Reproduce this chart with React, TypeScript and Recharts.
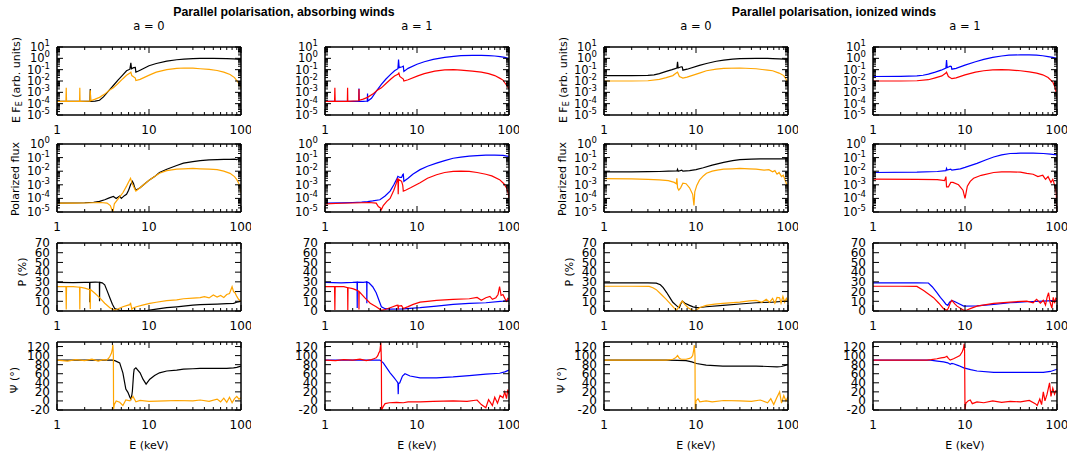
import React from 'react';
import { LineChart, Line, XAxis, YAxis } from 'recharts';

type Pt = [number, number];

// ---------- axis ticks & texts ----------
const X_TICKS = [1, 2, 3, 4, 5, 6, 7, 8, 9, 10, 20, 30, 40, 50, 60, 70, 80, 90, 100];
const X_LABELS = [1, 10, 100];
const FLUX_DECADES = [-5, -4, -3, -2, -1, 0, 1];
const POL_DECADES = [-5, -4, -3, -2, -1, 0];
const P_TICKS = [0, 10, 20, 30, 40, 50, 60, 70];
const PSI_TICKS = [-20, 0, 20, 40, 60, 80, 100, 120];

const TITLES = ['Parallel polarisation, absorbing winds', 'Parallel polarisation, ionized winds'];
const SPIN_LABELS = ['a = 0', 'a = 1', 'a = 0', 'a = 1'];
const X_LABEL = 'E (keV)';

// ---------- data: [E (keV), value] ----------
// Row 1: E F_E
const absA0Flux1: Pt[] = [[1,1.6e-4],[1.5,1.6e-4],[2.0,1.6e-4],[2.28,1.6e-4],[2.3,2e-3],[2.32,1.6e-4],[2.6,1.7e-4],[2.9,2e-4],[3.2,4e-4],[3.6,1.2e-3],[4.1,4e-3],[4.6,1.2e-2],[5.2,3.5e-2],[5.7,8e-2],[6.2,1.1e-1],[6.35,4e-1],[6.45,1.2e-1],[6.8,1.5e-1],[7.1,1.6e-1],[7.2,6e-2],[8,9e-2],[10,2.2e-1],[12,3.5e-1],[15.6,5.7e-1],[20,7.5e-1],[24,8.6e-1],[30,9.5e-1],[36,1.0],[50,1.0],[70,0.95],[83,0.9],[90,0.85],[100,0.75]];
const absA0Flux2: Pt[] = [[1,1.6e-4],[1.25,1.6e-4],[1.26,2.5e-3],[1.27,1.6e-4],[1.76,1.6e-4],[1.77,2.5e-3],[1.78,1.6e-4],[2.28,1.7e-4],[2.3,1.5e-3],[2.32,1.8e-4],[2.6,2.5e-4],[2.9,3.6e-4],[3.3,7e-4],[3.7,1.5e-3],[4.1,2.5e-3],[4.6,6e-3],[5.2,1.6e-2],[5.7,3.2e-2],[6.2,5e-2],[6.35,6e-2],[6.5,3e-2],[7.1,1.8e-2],[7.2,1.1e-2],[8,1.4e-2],[10.2,3.5e-2],[12,6e-2],[15.6,1.0e-1],[20,1.3e-1],[24,1.4e-1],[30,1.35e-1],[36,1.2e-1],[45,1.05e-1],[55,8.5e-2],[65,6e-2],[76,3.7e-2],[85,2e-2],[90,1.1e-2],[95,6e-3],[100,2.5e-3]];
const absA1Flux1: Pt[] = [[1,1.6e-4],[2.0,1.6e-4],[2.33,1.6e-4],[2.34,2.2e-3],[2.35,1.6e-4],[2.6,1.6e-4],[2.88,1.7e-4],[2.9,8e-4],[2.92,1.7e-4],[3.2,3e-4],[3.6,1.2e-3],[4.1,5e-3],[4.6,1.5e-2],[5.2,4e-2],[5.7,8e-2],[6.2,1.2e-1],[6.3,8e-1],[6.4,1.5e-1],[6.9,1.8e-1],[7.1,2e-1],[7.2,7e-2],[8,1.3e-1],[10,3e-1],[12,5e-1],[15,8e-1],[20,1.2],[25,1.5],[30,1.7],[40,1.8],[50,1.8],[60,1.75],[70,1.6],[80,1.4],[90,1.2],[100,0.95]];
const absA1Flux2: Pt[] = [[1,1.6e-4],[1.27,1.6e-4],[1.28,2.5e-3],[1.29,1.6e-4],[1.75,1.6e-4],[1.76,2.5e-3],[1.77,1.6e-4],[2.33,1.8e-4],[2.34,2e-3],[2.35,2e-4],[2.6,2.5e-4],[2.9,3.6e-4],[3.3,7e-4],[3.7,1.5e-3],[4.1,2.5e-3],[4.6,6e-3],[5.2,1.5e-2],[5.7,2.8e-2],[6.2,4e-2],[6.35,5e-2],[6.5,2.5e-2],[7.1,1.5e-2],[7.2,1e-2],[8,1.3e-2],[10.2,2.8e-2],[12,4.5e-2],[15.6,7.5e-2],[20,9.5e-2],[25,1e-1],[30,9e-2],[40,7.5e-2],[50,6e-2],[60,4.5e-2],[70,3e-2],[80,1.7e-2],[86,1.2e-2],[90,7e-3],[95,4e-3],[100,2e-3]];
const ionA0Flux1: Pt[] = [[1,3e-2],[2,3e-2],[3,3.1e-2],[3.5,3.5e-2],[4,4.5e-2],[4.75,7e-2],[5.5,1e-1],[6.2,1.4e-1],[6.3,5e-1],[6.4,1.4e-1],[6.9,1.8e-1],[7.1,1.7e-1],[7.2,9e-2],[8,1.1e-1],[10.9,2.4e-1],[13,3.5e-1],[16.6,5.5e-1],[20,7e-1],[25,8.5e-1],[30,9.5e-1],[45,1.0],[60,1.0],[68,0.95],[80,0.9],[90,0.85],[100,0.75]];
const ionA0Flux2: Pt[] = [[1,1e-2],[2,1e-2],[3,1.05e-2],[4,1.4e-2],[4.75,2e-2],[5.6,3e-2],[6.2,5.5e-2],[6.3,6e-2],[6.6,2.5e-2],[7.2,1.8e-2],[8,2.2e-2],[10.9,5e-2],[13,8e-2],[16.6,1.1e-1],[20,1.3e-1],[30,1.4e-1],[45,1.2e-1],[60,9e-2],[68,8e-2],[80,5e-2],[90,3e-2],[95,1.5e-2],[100,6e-3]];
const ionA1Flux1: Pt[] = [[1,2.5e-2],[2,2.6e-2],[3,2.8e-2],[3.5,3.2e-2],[4,4e-2],[4.75,6e-2],[5.5,9e-2],[6.2,1.4e-1],[6.3,7e-1],[6.4,1.5e-1],[6.9,2e-1],[7.1,1.9e-1],[7.2,1.1e-1],[8,1.3e-1],[10,2.5e-1],[13,5e-1],[16,8e-1],[20,1.2],[25,1.6],[30,1.9],[40,2.0],[50,2.0],[60,1.9],[70,1.7],[80,1.4],[90,1.2],[100,1.0]];
const ionA1Flux2: Pt[] = [[1,1e-2],[2,1e-2],[3,1.05e-2],[4,1.3e-2],[4.75,1.9e-2],[5.6,2.8e-2],[6.2,5e-2],[6.3,6e-2],[6.6,2.5e-2],[7.2,1.6e-2],[8,1.9e-2],[10,3.5e-2],[13,6e-2],[16,8e-2],[20,9.5e-2],[25,1e-1],[30,9.5e-2],[40,8e-2],[50,6.5e-2],[60,5e-2],[70,3.5e-2],[80,2e-2],[90,8e-3],[95,3e-3],[98,1e-3],[100,3e-4]];

// Row 2: polarized flux
const absA0Pol1: Pt[] = [[1,4.5e-5],[1.5,4.6e-5],[2,4.8e-5],[2.5,5.2e-5],[2.9,6e-5],[3.3,8e-5],[3.7,1.1e-4],[4.1,1.4e-4],[4.4,1.0e-4],[4.8,1.5e-4],[5.0,1.0e-4],[5.4,1.6e-4],[5.7,2e-4],[6.0,4e-4],[6.3,1e-3],[6.6,1.8e-3],[6.8,1.2e-3],[7.0,6e-4],[7.2,4e-4],[8,6e-4],[9,1.2e-3],[10.2,2.4e-3],[11.5,4e-3],[13,8e-3],[15.6,1.4e-2],[20,2.6e-2],[23.7,3.9e-2],[30,5e-2],[36,6e-2],[45,6.8e-2],[55,7e-2],[65,7.3e-2],[75,7.5e-2],[85,7.7e-2],[90,7e-2],[95,9e-2],[100,1e-1]];
const absA0Pol2: Pt[] = [[1,4.5e-5],[1.5,4.5e-5],[2,4.6e-5],[2.5,4.8e-5],[3,5e-5],[3.5,4.5e-5],[3.8,3e-5],[4.0,1.2e-5],[4.05,1e-5],[4.2,4e-5],[4.4,6e-5],[4.8,1.3e-4],[5.2,2.6e-4],[5.7,8e-4],[6.1,2e-3],[6.3,3e-3],[6.5,1.5e-3],[6.75,8e-4],[7.0,5e-4],[7.2,3.4e-4],[8,6e-4],[9,1.2e-3],[10.2,2.4e-3],[11.5,4e-3],[13,7e-3],[15.6,1.1e-2],[20,1.4e-2],[23.7,1.5e-2],[30,1.6e-2],[36,1.5e-2],[45,1.4e-2],[55,1.3e-2],[65,1e-2],[76,7e-3],[85,4e-3],[90,2.4e-3],[95,1.2e-3],[100,2.6e-4]];
const absA1Pol1: Pt[] = [[1,4.5e-5],[1.5,4.7e-5],[2,5e-5],[2.5,5.3e-5],[2.9,5.8e-5],[3.3,6.5e-5],[3.95,8e-5],[4.5,1.5e-4],[5.1,3.4e-4],[5.6,1e-3],[6.0,2.5e-3],[6.2,4.2e-3],[6.5,3.5e-3],[6.8,3.5e-3],[7.0,5.5e-3],[7.1,6e-3],[7.2,1.8e-3],[8,3e-3],[9,6e-3],[10.8,1.3e-2],[13,2.3e-2],[16.3,3.9e-2],[20,6e-2],[24.7,9e-2],[30,1.1e-1],[37,1.3e-1],[45,1.4e-1],[56,1.5e-1],[70,1.5e-1],[86,1.45e-1],[95,1.3e-1],[100,1.2e-1]];
const absA1Pol2: Pt[] = [[1,4e-5],[1.5,4.4e-5],[2,4.6e-5],[2.5,4.8e-5],[3,5e-5],[3.6,4.5e-5],[3.8,2.5e-5],[4.0,2e-5],[4.1,1.5e-5],[4.3,3e-5],[4.7,6e-5],[5.1,1e-4],[5.6,4e-4],[6.0,1.5e-3],[6.1,2.4e-3],[6.2,3e-3],[6.25,2e-4],[6.3,2.5e-3],[6.8,1.8e-3],[7.0,9e-4],[7.1,3.4e-4],[7.5,4e-4],[8.5,6e-4],[10.8,1.4e-3],[13,3e-3],[16.3,5.5e-3],[20,8e-3],[24.7,9.6e-3],[30,1e-2],[37,9.6e-3],[45,8e-3],[56,6e-3],[65,4.5e-3],[79,2.4e-3],[88,1.2e-3],[94,6e-4],[98,2.5e-4],[100,1e-4]];
const ionA0Pol1: Pt[] = [[1,9e-3],[2,9e-3],[3,9.2e-3],[4,9.5e-3],[5,1e-2],[6.2,1.05e-2],[6.3,1.4e-2],[6.4,1e-2],[7.0,1.2e-2],[7.2,1e-2],[8.5,1.1e-2],[10,1.3e-2],[12,1.8e-2],[15,2.8e-2],[20,4.5e-2],[25,6e-2],[30,7e-2],[40,7.8e-2],[50,8e-2],[70,8.2e-2],[90,8e-2],[100,8.5e-2]];
const ionA0Pol2: Pt[] = [[1,2.8e-3],[2,2.7e-3],[3,2.5e-3],[4,2.3e-3],[5,2e-3],[5.8,1.5e-3],[6.1,1.2e-3],[6.2,3e-3],[6.3,6e-4],[6.5,4e-4],[6.8,6e-4],[7.2,1.3e-3],[7.8,1.2e-3],[8.5,6e-4],[9.2,2e-4],[9.5,3e-5],[9.7,3e-4],[10.2,9e-4],[10.9,2.2e-3],[12,4.5e-3],[13,7e-3],[15,1e-2],[17,1.2e-2],[20,1.4e-2],[25,1.5e-2],[30,1.6e-2],[38,1.5e-2],[45,1.4e-2],[55,1.2e-2],[62,1.3e-2],[68,9e-3],[72,1.1e-2],[76,6e-3],[80,8e-3],[85,4e-3],[89,5e-3],[95,1.5e-3],[100,5e-4]];
const ionA1Pol1: Pt[] = [[1,8e-3],[3,8.5e-3],[5,9.5e-3],[6.2,1.1e-2],[6.3,1.6e-2],[6.4,1.2e-2],[7,1.4e-2],[7.2,1.2e-2],[8.9,1.5e-2],[10,1.9e-2],[13.5,3.8e-2],[17,7e-2],[20.5,1.1e-1],[25,1.6e-1],[31,2e-1],[40,2.1e-1],[55,2.1e-1],[71,2e-1],[85,1.8e-1],[100,1.6e-1]];
const ionA1Pol2: Pt[] = [[1,2.6e-3],[3,2.5e-3],[5,2.4e-3],[6.0,2e-3],[6.2,4e-3],[6.3,7e-4],[6.6,7e-4],[7.0,1.5e-3],[7.4,1.5e-3],[8.5,1e-3],[9.5,4e-4],[10,1e-4],[10.2,2e-4],[10.6,8e-4],[11.4,1.8e-3],[12.4,3e-3],[15,5e-3],[20.5,8e-3],[25,9e-3],[31,9e-3],[40,8.5e-3],[47,7e-3],[55,6e-3],[62,4e-3],[70,5e-3],[75,2.5e-3],[80,4e-3],[86,1.5e-3],[90,2.5e-3],[95,8e-4],[98,3e-4],[100,1e-5]];

// Row 3: P (%)
const absA0P1: Pt[] = [[1,29.5],[1.5,29.2],[2,29.5],[2.26,29.6],[2.27,9],[2.28,29.5],[2.6,29.8],[2.89,29.6],[2.9,10],[2.91,29.5],[3.1,29],[3.3,27],[3.5,21],[3.75,13.7],[4.0,7],[4.25,2.4],[4.8,0.7],[6,0.5],[8,0.4],[9.4,0.5],[12,2],[15.6,3.4],[20,4.3],[23.7,5],[30,6],[36,6.5],[55,7],[70,7.5],[83,7.8],[90,9],[100,10]];
const absA0P2: Pt[] = [[1,25],[1.25,25],[1.26,1.5],[1.27,25],[1.5,25],[1.76,24.5],[1.77,1.5],[1.78,24.5],[2.0,23.5],[2.27,22],[2.3,2],[2.31,22],[2.6,18],[2.9,13.7],[3.3,8],[3.75,3.4],[4.25,0.7],[4.7,2.5],[5.2,4.4],[5.8,5.8],[6.2,6.5],[6.3,8.5],[6.5,1.7],[6.7,3],[7.3,4.4],[8.5,6],[10.2,7.8],[12,9],[15.6,10.6],[20,11.5],[23.7,12.6],[30,13.2],[36,13.7],[40,14.8],[45,13.5],[50,16.5],[55,14.4],[60,16],[65,14],[70,17],[75,18],[80,25],[83,20],[86,18.8],[90,15],[94,12],[100,10]];
const absA1P1: Pt[] = [[1,29.5],[1.5,29],[2,29.5],[2.23,29.8],[2.24,3],[2.25,29.8],[2.6,29.5],[2.84,30],[2.85,8],[2.86,30],[3.0,29],[3.3,25],[3.6,18.8],[4.1,4.4],[4.5,2.4],[5,2],[7.1,2.2],[10.8,3.4],[16.3,5],[24.7,6.8],[37,7.8],[56,8.5],[86,10.2],[100,11]];
const absA1P2: Pt[] = [[1,25],[1.27,25],[1.28,1],[1.29,25],[1.6,25],[1.76,24],[1.77,1],[1.78,24],[2.0,23],[2.2,21.5],[2.33,20],[2.34,1.5],[2.35,20],[2.7,13.7],[3.1,8],[3.6,4.4],[4.1,0.7],[4.5,1.5],[5.1,3.4],[6.0,5.8],[6.2,6],[6.25,1.7],[6.3,5],[6.8,5.5],[7.1,2.5],[8,4.5],[9.1,6.8],[10.8,9.2],[13,10],[16.3,10.9],[24.7,12],[37,12.6],[45,14],[50,11],[56,13.7],[62,15],[66,12],[72,13.7],[76,17],[79,25],[82,16],[86,17],[90,13],[94,10],[97,13],[100,12]];
const ionA0P1: Pt[] = [[1,29],[2,29],[3,29],[3.7,28.7],[4.1,27],[4.4,24],[4.8,19],[5.2,13.7],[5.6,9],[6.1,5.8],[6.4,4],[6.6,3.4],[6.8,7],[7.1,10.2],[7.6,8],[8.5,5.8],[9.3,4.3],[10.1,3.4],[11,3.6],[12.9,4.4],[19.6,5.8],[30,7.2],[45,8.5],[68,9.2],[85,9.8],[100,10.2]];
const ionA0P2: Pt[] = [[1,25.5],[2,25.5],[3.1,25.3],[3.4,24],[3.7,22],[4.2,17],[4.75,12],[5.3,7],[5.8,3],[6.1,0.7],[6.4,3],[6.8,8],[7.1,10.2],[7.6,6.5],[8.2,3.4],[9,1.2],[9.6,0.2],[10.3,1.5],[10.9,3.4],[12.9,5.8],[16,7],[19.6,7.8],[30,9.2],[38,10.5],[45,10.9],[52,9],[58,12],[63,9],[68,13],[72,8],[76,14],[81,13.7],[84,8],[88,15],[92,9],[96,13],[100,10]];
const ionA1P1: Pt[] = [[1,29],[2,29],[3,29],[4.0,28.8],[4.4,25],[4.95,18.8],[5.4,14],[5.85,10.2],[6.2,7],[6.5,5.8],[6.8,9],[7.2,10.9],[7.8,9.5],[8.5,7.8],[9.7,5],[13.5,5.2],[20.5,6.8],[31,8.5],[47,9.5],[71,10.2],[100,11]];
const ionA1P2: Pt[] = [[1,25.5],[2,25.5],[3,25.3],[3.55,21],[4.0,17.5],[4.55,13.7],[5.2,8],[5.85,2.4],[6.35,0.7],[6.6,3],[6.9,8],[7.2,11],[7.7,7.5],[8.2,5],[9,2.5],[9.7,0.7],[10.5,1],[11.4,2.4],[13.5,5],[20.5,7.8],[31,9.2],[47,10.2],[55,8.5],[60,12],[66,8],[71,11],[75,6],[78,14],[81,18.8],[84,9],[88,3],[91,14],[94,8],[97,13],[100,12]];

// Row 4: Psi (deg)
const absA0Psi1: Pt[] = [[1,90],[2,90],[3,90],[4,90],[4.25,89],[4.8,84],[5.2,62],[5.6,26],[5.9,19],[6.2,8],[6.35,4],[6.5,12],[6.6,22],[6.8,60],[6.9,70],[7.2,73],[8,62],[8.6,48],[9.3,37],[10.2,48],[11.5,56],[13,62],[15.6,66],[20,68],[23.7,70],[30,71],[36,72],[55,72],[70,72],[83,73],[90,74],[100,77]];
const absA0Psi2: Pt[] = [[1,90],[1.3,88],[1.6,91],[2,89],[2.4,92],[2.8,88],[3.2,91],[3.45,90],[3.6,93],[3.75,98],[3.9,105],[4.0,115],[4.05,124],[4.1,100],[4.12,-18],[4.2,-8],[4.4,0],[4.8,-3],[5.2,-10],[5.6,2],[6.2,0],[6.7,10],[7.2,-2],[8,1],[10,-1],[15,0],[20,1],[30,0],[36,2],[45,-1],[55,4],[60,-2],[65,6],[70,-3],[75,8],[80,-4],[85,5],[90,10],[95,4],[100,7]];
const absA1Psi1: Pt[] = [[1,90],[2,90],[3,90],[3.95,90],[4.3,84],[5.1,62],[5.6,52],[6.0,44],[6.2,40],[6.25,15],[6.3,38],[6.5,40],[6.95,55],[7.4,60],[8.4,55],[10.8,51],[16.3,51],[24.7,53],[37,56],[56,59],[79,61],[90,64],[100,68]];
const absA1Psi2: Pt[] = [[1,90],[1.3,89],[1.6,91],[2,90],[2.4,92],[2.8,89],[3.2,91],[3.4,93],[3.6,95],[3.75,100],[3.85,106],[3.95,110],[4.0,120],[4.05,128],[4.1,90],[4.12,-20],[4.3,-12],[4.5,-6],[5,-4],[6,-3],[7.1,-4],[8,-2],[10.8,-2],[15,-1],[24.7,0],[35,-1],[45,2],[50,-8],[56,-15],[60,3],[66,-10],[70,8],[75,-5],[80,12],[86,7],[90,20],[94,5],[97,25],[100,15]];
const ionA0Psi1: Pt[] = [[1,90],[3,90],[5,90],[7.8,89],[9,86],[10.1,82.5],[12.9,79],[19.6,77],[30,77],[45,77],[60,76],[76,75],[85,76],[100,80]];
const ionA0Psi2: Pt[] = [[1,90],[2,90],[3,90],[4.75,90],[5.2,91],[5.6,92],[6.0,95],[6.3,100],[6.6,94],[6.9,92],[7.8,92],[8.5,94],[8.9,96],[9.2,100],[9.4,110],[9.6,123],[9.75,100],[9.8,-20],[10.0,0],[10.5,5],[11,-2],[12.9,0],[15,-2],[20,1],[30,0],[40,-1],[50,2],[60,-4],[65,5],[70,-8],[75,6],[81,20],[85,-5],[90,12],[95,0],[100,9]];
const ionA1Psi1: Pt[] = [[1,90],[3,90],[4.2,90],[5,88],[5.85,86],[6.5,84],[6.9,81],[7.2,83],[7.5,82],[8.5,78],[9.7,73],[11.5,69],[13.5,66],[20.5,63],[30,63],[47,63],[71,63],[85,65],[100,70]];
const ionA1Psi2: Pt[] = [[1,90],[2,90],[3,90],[3.85,90],[4.3,91],[4.95,93],[5.5,95],[6.0,96],[6.35,98.5],[6.6,94],[6.9,90],[7.5,93],[8.2,97],[8.8,100],[9.3,108],[9.6,115],[9.8,126],[9.9,110],[10.0,-20],[10.2,-5],[10.8,0],[11.4,2],[12,-6],[13.5,-2],[16,-4],[20,0],[25,-3],[31,-1],[40,-2],[50,1],[58,-6],[61,-10],[65,4],[68,-8],[71,20],[74,0],[78,15],[83,40],[86,10],[90,28],[94,15],[97,22],[100,20]];

const PANEL_DATA: Pt[][][][] = [
  [[absA0Flux1, absA0Flux2], [absA1Flux1, absA1Flux2], [ionA0Flux1, ionA0Flux2], [ionA1Flux1, ionA1Flux2]],
  [[absA0Pol1, absA0Pol2], [absA1Pol1, absA1Pol2], [ionA0Pol1, ionA0Pol2], [ionA1Pol1, ionA1Pol2]],
  [[absA0P1, absA0P2], [absA1P1, absA1P2], [ionA0P1, ionA0P2], [ionA1P1, ionA1P2]],
  [[absA0Psi1, absA0Psi2], [absA1Psi1, absA1Psi2], [ionA0Psi1, ionA0Psi2], [ionA1Psi1, ionA1Psi2]],
];

const COL_COLORS = [['#000000', '#ffa500'], ['#0000ff', '#ff0000'], ['#000000', '#ffa500'], ['#0000ff', '#ff0000']];

// ---------- layout ----------
const FONT = "'DejaVu Sans', sans-serif";
const COL_LEFT = [57, 325, 604, 873];
const ROW_TOP = [47, 144, 243, 342];
const PW = 184;
const PH = 68;
const ML = 60, MR = 10, MT = 10, MB = 26;

function logTicks(decades: number[]): number[] {
  const out: number[] = [];
  decades.forEach((d, i) => {
    const base = Math.pow(10, d);
    out.push(base);
    if (i < decades.length - 1) {
      for (let m = 2; m <= 9; m++) out.push(m * base);
    }
  });
  return out;
}

type RowCfg = { log: boolean; domain: [number, number]; ticks: number[] };
const ROWS: RowCfg[] = [
  { log: true, domain: [1e-5, 10], ticks: logTicks(FLUX_DECADES) },
  { log: true, domain: [1e-5, 1], ticks: logTicks(POL_DECADES) },
  { log: false, domain: [0, 70], ticks: P_TICKS },
  { log: false, domain: [-20, 130], ticks: PSI_TICKS },
];

const toRows = (s: Pt[]) => s.map(([e, v]) => ({ e, v }));

const renderXTick = (side: 'bottom' | 'top') => (props: any) => {
  const { x, y, payload } = props;
  const v = payload.value;
  const major = X_LABELS.includes(v);
  const len = major ? 6 : 3;
  const d = side === 'bottom' ? -len : len;
  return (
    <g>
      <line x1={x} x2={x} y1={y} y2={y + d} stroke="#000" strokeWidth={1} />
      {side === 'bottom' && major ? (
        <text x={x} y={y + 19} textAnchor="middle" fontSize={12} fontFamily={FONT} fill="#000">{v}</text>
      ) : null}
    </g>
  );
};

const renderYTick = (side: 'left' | 'right', log: boolean) => (props: any) => {
  const { x, y, payload } = props;
  const v = payload.value;
  const lg = log ? Math.log10(v) : 0;
  const major = !log || Math.abs(lg - Math.round(lg)) < 1e-6;
  const len = major ? 6 : 3;
  const d = side === 'left' ? len : -len;
  let label: React.ReactNode = null;
  if (side === 'left' && major) {
    label = log ? (
      <text x={x - 7} y={y + 4} textAnchor="end" fontSize={11.5} fontFamily={FONT} fill="#000">
        10<tspan dy={-5} fontSize={8.5}>{String(Math.round(lg))}</tspan>
      </text>
    ) : (
      <text x={x - 7} y={y + 4.3} textAnchor="end" fontSize={12} fontFamily={FONT} fill="#000">{v}</text>
    );
  }
  return (
    <g>
      <line x1={x} x2={x + d} y1={y} y2={y} stroke="#000" strokeWidth={1} />
      {label}
    </g>
  );
};

const AXIS_LINE = { stroke: '#000', strokeWidth: 1.5 };

function Panel({ row, col }: { row: number; col: number }) {
  const cfg = ROWS[row];
  const [s1, s2] = PANEL_DATA[row][col];
  const [c1, c2] = COL_COLORS[col];
  const scale = cfg.log ? 'log' : 'linear';
  return (
    <div style={{ position: 'absolute', left: COL_LEFT[col] - ML, top: ROW_TOP[row] - MT }}>
      <LineChart width={PW + ML + MR} height={PH + MT + MB} margin={{ top: 0, right: 0, bottom: 0, left: 0 }}>
        <XAxis xAxisId="b" orientation="bottom" type="number" dataKey="e" scale="log" domain={[1, 100]}
          allowDataOverflow ticks={X_TICKS} interval={0} height={MB} tickSize={0} tickMargin={0}
          tickLine={false} axisLine={AXIS_LINE} tick={renderXTick('bottom')} />
        <XAxis xAxisId="t" orientation="top" type="number" dataKey="e" scale="log" domain={[1, 100]}
          allowDataOverflow ticks={X_TICKS} interval={0} height={MT} tickSize={0} tickMargin={0}
          tickLine={false} axisLine={AXIS_LINE} tick={renderXTick('top')} />
        <YAxis yAxisId="l" orientation="left" type="number" dataKey="v" scale={scale} domain={cfg.domain}
          allowDataOverflow ticks={cfg.ticks} interval={0} width={ML} tickSize={0} tickMargin={0}
          tickLine={false} axisLine={AXIS_LINE} tick={renderYTick('left', cfg.log)} />
        <YAxis yAxisId="r" orientation="right" type="number" dataKey="v" scale={scale} domain={cfg.domain}
          allowDataOverflow ticks={cfg.ticks} interval={0} width={MR} tickSize={0} tickMargin={0}
          tickLine={false} axisLine={AXIS_LINE} tick={renderYTick('right', cfg.log)} />
        <Line xAxisId="b" yAxisId="l" data={toRows(s1)} dataKey="v" type="linear" stroke={c1}
          strokeWidth={1.2} dot={false} activeDot={false} isAnimationActive={false} />
        <Line xAxisId="b" yAxisId="l" data={toRows(s2)} dataKey="v" type="linear" stroke={c2}
          strokeWidth={1.2} dot={false} activeDot={false} isAnimationActive={false} />
      </LineChart>
    </div>
  );
}

const Y_LABEL_DX = [-41, -42, -35, -43];
const Y_LABEL_CY = [80, 179, 272, 380];

function YLabel({ row, cx, cy }: { row: number; cx: number; cy: number }) {
  const common = {
    x: cx, y: cy, textAnchor: 'middle' as const, dominantBaseline: 'central' as const,
    fontSize: 11, fontFamily: FONT, fill: '#000', transform: `rotate(-90 ${cx} ${cy})`,
  };
  if (row === 0) {
    return (
      <text {...common}>
        E F<tspan fontSize={8} dy={3}>E</tspan><tspan dy={-3}> (arb. units)</tspan>
      </text>
    );
  }
  const txt = ['', 'Polarized flux', 'P (%)', 'Ψ (°)'][row];
  return <text {...common}>{txt}</text>;
}

export default function App() {
  const panels: React.ReactNode[] = [];
  for (let r = 0; r < 4; r++) {
    for (let c = 0; c < 4; c++) panels.push(<Panel key={`${r}-${c}`} row={r} col={c} />);
  }
  return (
    <div style={{ position: 'absolute', left: 0, top: 0, width: 1081, height: 455, background: '#fff', overflow: 'hidden' }}>
      {panels}
      <svg width={1081} height={455} style={{ position: 'absolute', left: 0, top: 0, pointerEvents: 'none' }}>
        <text x={284} y={16} textAnchor="middle" fontSize={12.3} fontWeight="bold" fontFamily="'Liberation Sans', Arial, sans-serif" fill="#000">{TITLES[0]}</text>
        <text x={834} y={16} textAnchor="middle" fontSize={12.3} fontWeight="bold" fontFamily="'Liberation Sans', Arial, sans-serif" fill="#000">{TITLES[1]}</text>
        {SPIN_LABELS.map((s, i) => (
          <text key={`s${i}`} x={COL_LEFT[i] + PW / 2} y={29.5} textAnchor="middle" fontSize={11.5} fontFamily={FONT} fill="#000">{s}</text>
        ))}
        {COL_LEFT.map((l, i) => (
          <text key={`x${i}`} x={l + PW / 2} y={449} textAnchor="middle" fontSize={11} fontFamily={FONT} fill="#000">{X_LABEL}</text>
        ))}
        {[0, 2].map((c) =>
          [0, 1, 2, 3].map((r) => (
            <YLabel key={`y${c}${r}`} row={r} cx={COL_LEFT[c] + Y_LABEL_DX[r]} cy={Y_LABEL_CY[r]} />
          ))
        )}
      </svg>
    </div>
  );
}
